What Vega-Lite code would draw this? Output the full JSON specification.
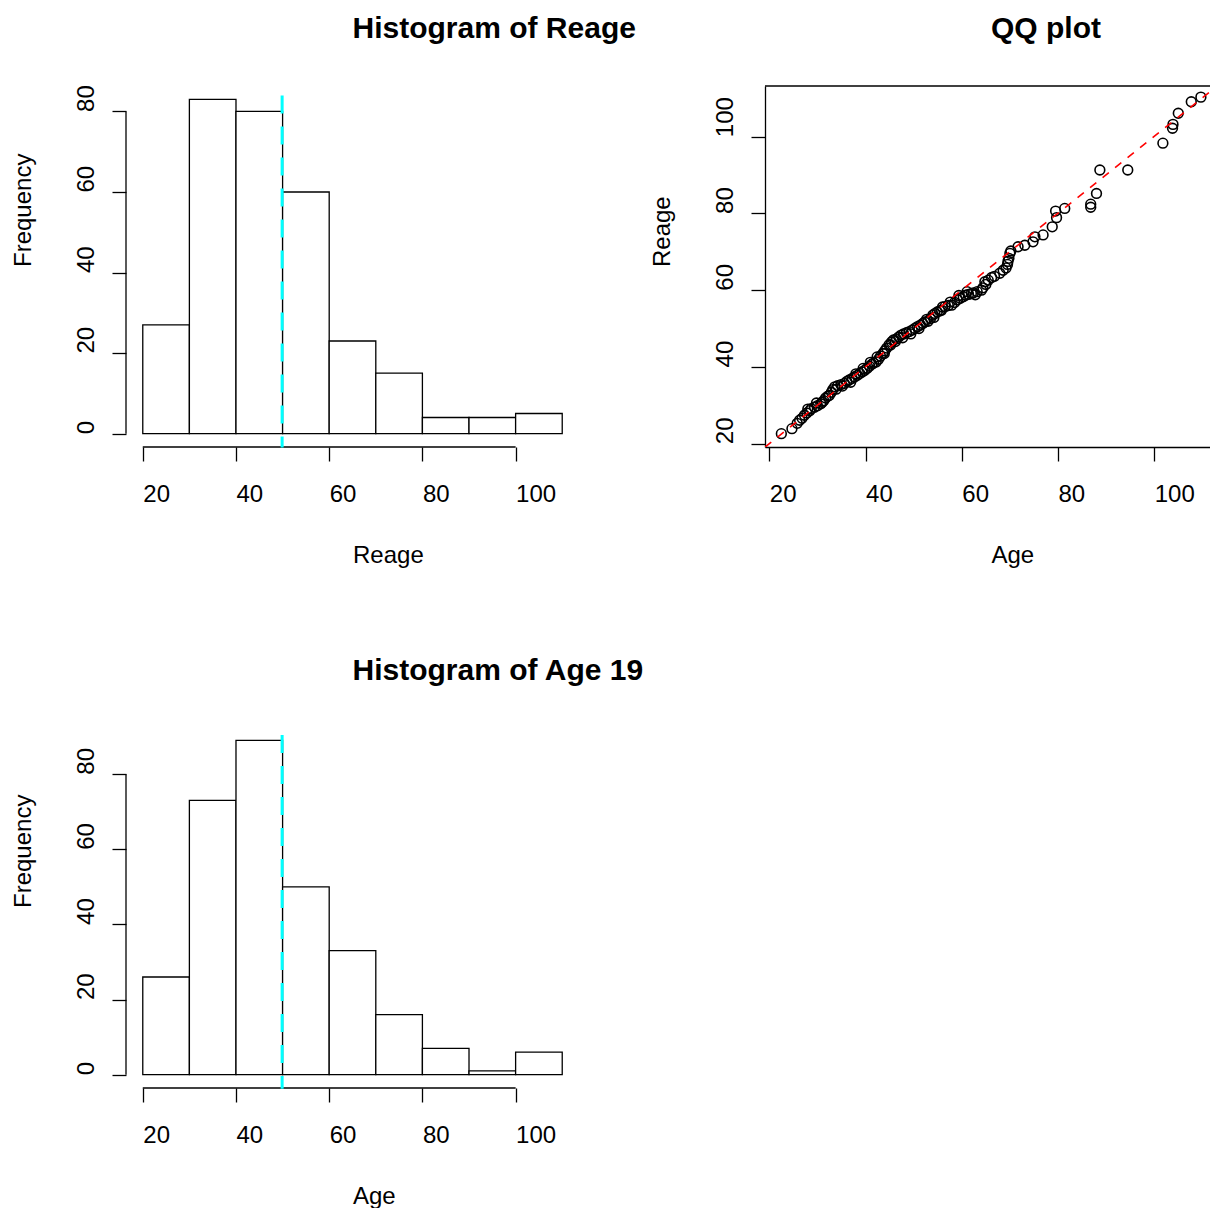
{
  "$schema": "https://vega.github.io/schema/vega-lite/v6.json",
  "background": "white",
  "padding": {"left": 11, "top": 13, "right": 0, "bottom": 0},
  "bounds": "flush",
  "columns": 2,
  "spacing": {"row": 280, "column": 186},
  "config": {
    "view": {"stroke": null},
    "font": "Liberation Sans",
    "axis": {
      "grid": false,
      "domain": false,
      "tickSize": 14,
      "tickColor": "black",
      "tickWidth": 1.3,
      "labelFont": "Liberation Sans",
      "labelFontSize": 24,
      "labelColor": "black",
      "titleFont": "Liberation Sans",
      "titleFontSize": 24,
      "titleFontWeight": "normal",
      "titleColor": "black",
      "labelOverlap": false,
      "labelFlush": false,
      "labelBound": false
    },
    "axisX": {
      "labelAngle": 0,
      "labelAlign": "left",
      "labelBaseline": "alphabetic",
      "labelPadding": 40,
      "titleAngle": 0,
      "titleAlign": "left",
      "titleBaseline": "alphabetic",
      "titleY": 115
    },
    "axisY": {
      "labelAngle": 270,
      "labelAlign": "left",
      "labelBaseline": "alphabetic",
      "labelPadding": 19,
      "titleAngle": 270,
      "titleAlign": "left",
      "titleBaseline": "alphabetic",
      "titleX": -96,
      "titleY": 180.5
    },
    "title": {
      "frame": "group",
      "font": "Liberation Sans",
      "fontSize": 30,
      "fontWeight": "bold",
      "color": "black"
    }
  },
  "concat": [
    {
      "width": 453,
      "height": 361,
      "title": {"text": "Histogram of Reage", "align": "left", "baseline": "alphabetic", "anchor": "middle", "frame": "group", "offset": 17},
      "layer": [
        {
          "data": {"values": [
            {"lo": 20, "hi": 30, "count": 27},
            {"lo": 30, "hi": 40, "count": 83},
            {"lo": 40, "hi": 50, "count": 80},
            {"lo": 50, "hi": 60, "count": 60},
            {"lo": 60, "hi": 70, "count": 23},
            {"lo": 70, "hi": 80, "count": 15},
            {"lo": 80, "hi": 90, "count": 4},
            {"lo": 90, "hi": 100, "count": 4},
            {"lo": 100, "hi": 110, "count": 5}
          ]},
          "mark": {"type": "bar", "fill": "white", "stroke": "black", "strokeWidth": 1.3},
          "encoding": {
            "x": {"field": "lo", "type": "quantitative", "scale": {"domain": [16.4, 113.6], "nice": false, "zero": false},
                  "axis": {"values": [20, 40, 60, 80, 100], "title": "Reage", "titleX": 226.5}},
            "x2": {"field": "hi"},
            "y": {"field": "count", "type": "quantitative", "scale": {"domain": [-3.32, 86.32], "nice": false, "zero": false},
                  "axis": {"values": [0, 20, 40, 60, 80], "title": "Frequency"}},
            "y2": {"datum": 0}
          }
        },
        {
          "data": {"values": [{}]},
          "mark": {"type": "rule", "color": "black", "strokeWidth": 1.3},
          "encoding": {"x": {"datum": 20}, "x2": {"datum": 100}, "y": {"datum": -3.32}}
        },
        {
          "data": {"values": [{}]},
          "mark": {"type": "rule", "color": "black", "strokeWidth": 1.3},
          "encoding": {"x": {"datum": 16.4}, "y": {"datum": 0}, "y2": {"datum": 80}}
        },
        {
          "data": {"values": [{}]},
          "mark": {"type": "rule", "color": "#00FFFF", "strokeWidth": 3, "strokeDash": [18, 13]},
          "encoding": {"x": {"datum": 49.9}, "y": {"datum": 83.96}, "y2": {"datum": -3.47}}
        }
      ]
    },
    {
      "width": 446,
      "height": 361,
      "title": {"text": "QQ plot", "align": "left", "baseline": "alphabetic", "anchor": "start", "dx": 226, "frame": "group", "offset": 17},
      "layer": [
        {
          "data": {"values": [
            {"age": 22.5, "reage": 22.6}, {"age": 24.7, "reage": 23.9}, {"age": 25.8, "reage": 25.3}, {"age": 26.3, "reage": 26.1},
            {"age": 26.8, "reage": 26.6}, {"age": 27.3, "reage": 27.4}, {"age": 27.8, "reage": 28.0}, {"age": 28.4, "reage": 28.6},
            {"age": 28.7, "reage": 29.1}, {"age": 29.4, "reage": 29.5}, {"age": 30.0, "reage": 29.9}, {"age": 30.7, "reage": 30.4},
            {"age": 31.3, "reage": 31.2}, {"age": 31.7, "reage": 31.9}, {"age": 32.2, "reage": 32.4}, {"age": 32.5, "reage": 32.6},
            {"age": 32.9, "reage": 33.4}, {"age": 33.2, "reage": 34.1}, {"age": 33.6, "reage": 34.8}, {"age": 34.2, "reage": 35.1},
            {"age": 34.9, "reage": 35.4}, {"age": 35.6, "reage": 35.7}, {"age": 36.1, "reage": 36.2}, {"age": 36.6, "reage": 36.6},
            {"age": 37.2, "reage": 37.0}, {"age": 37.7, "reage": 37.4}, {"age": 38.3, "reage": 37.8}, {"age": 38.8, "reage": 38.3},
            {"age": 39.3, "reage": 38.7}, {"age": 39.8, "reage": 39.1}, {"age": 40.3, "reage": 39.6}, {"age": 40.8, "reage": 40.2},
            {"age": 41.3, "reage": 40.7}, {"age": 41.7, "reage": 41.0}, {"age": 42.2, "reage": 41.3}, {"age": 42.7, "reage": 42.0},
            {"age": 43.1, "reage": 42.8}, {"age": 43.6, "reage": 43.5}, {"age": 44.0, "reage": 44.2}, {"age": 44.4, "reage": 44.9},
            {"age": 44.9, "reage": 45.8}, {"age": 45.4, "reage": 46.5}, {"age": 45.8, "reage": 47.0}, {"age": 46.4, "reage": 47.3},
            {"age": 46.9, "reage": 47.8}, {"age": 47.4, "reage": 48.3}, {"age": 47.9, "reage": 48.6}, {"age": 48.5, "reage": 48.9},
            {"age": 49.1, "reage": 49.2}, {"age": 49.7, "reage": 49.6}, {"age": 50.2, "reage": 50.0}, {"age": 50.8, "reage": 50.5},
            {"age": 51.4, "reage": 50.9}, {"age": 51.9, "reage": 51.3}, {"age": 52.3, "reage": 51.7}, {"age": 53.0, "reage": 51.9},
            {"age": 53.5, "reage": 52.6}, {"age": 54.0, "reage": 53.5}, {"age": 54.4, "reage": 53.9}, {"age": 54.9, "reage": 54.3},
            {"age": 55.4, "reage": 54.6}, {"age": 55.8, "reage": 54.8}, {"age": 56.5, "reage": 55.7}, {"age": 57.2, "reage": 56.0},
            {"age": 57.9, "reage": 56.1}, {"age": 58.5, "reage": 56.8}, {"age": 59.1, "reage": 57.5}, {"age": 59.7, "reage": 57.9},
            {"age": 60.3, "reage": 58.3}, {"age": 60.8, "reage": 58.7}, {"age": 61.4, "reage": 58.9}, {"age": 62.0, "reage": 59.1},
            {"age": 62.4, "reage": 59.3}, {"age": 63.2, "reage": 59.6}, {"age": 64.1, "reage": 60.0}, {"age": 64.4, "reage": 60.6},
            {"age": 64.8, "reage": 62.2}, {"age": 65.5, "reage": 62.6}, {"age": 66.2, "reage": 63.3}, {"age": 66.8, "reage": 63.6},
            {"age": 67.9, "reage": 64.4}, {"age": 68.6, "reage": 65.2}, {"age": 69.2, "reage": 65.8}, {"age": 69.5, "reage": 66.7},
            {"age": 69.6, "reage": 67.5}, {"age": 69.8, "reage": 68.3}, {"age": 70.0, "reage": 69.6}, {"age": 70.2, "reage": 70.2},
            {"age": 71.7, "reage": 71.3}, {"age": 73.1, "reage": 71.7}, {"age": 74.8, "reage": 72.6}, {"age": 75.2, "reage": 73.9},
            {"age": 76.9, "reage": 74.4}, {"age": 78.8, "reage": 76.5}, {"age": 79.7, "reage": 78.9}, {"age": 79.5, "reage": 80.6},
            {"age": 81.4, "reage": 81.3}, {"age": 86.8, "reage": 81.6}, {"age": 86.8, "reage": 82.4}, {"age": 88.0, "reage": 85.2},
            {"age": 88.7, "reage": 91.3}, {"age": 94.5, "reage": 91.3}, {"age": 101.8, "reage": 98.3}, {"age": 103.8, "reage": 102.2},
            {"age": 103.9, "reage": 103.2}, {"age": 105.0, "reage": 106.1}, {"age": 107.7, "reage": 109.1}, {"age": 109.7, "reage": 110.3},
            {"age": 28.0, "reage": 29.0}, {"age": 29.8, "reage": 30.6}, {"age": 31.0, "reage": 30.8}, {"age": 33.9, "reage": 34.2},
            {"age": 35.2, "reage": 35.0}, {"age": 36.9, "reage": 36.0}, {"age": 38.0, "reage": 38.2}, {"age": 39.5, "reage": 39.6},
            {"age": 41.0, "reage": 41.2}, {"age": 42.4, "reage": 42.6}, {"age": 43.9, "reage": 43.5}, {"age": 45.2, "reage": 45.7},
            {"age": 46.2, "reage": 46.6}, {"age": 47.7, "reage": 47.6}, {"age": 49.4, "reage": 48.6}, {"age": 51.1, "reage": 50.0},
            {"age": 52.7, "reage": 52.4}, {"age": 54.2, "reage": 52.9}, {"age": 56.0, "reage": 55.6}, {"age": 57.6, "reage": 56.9},
            {"age": 59.4, "reage": 58.6}, {"age": 61.1, "reage": 59.6}, {"age": 62.8, "reage": 58.8}, {"age": 65.0, "reage": 61.5}
          ]},
          "mark": {"type": "point", "shape": "circle", "filled": false, "stroke": "black", "strokeWidth": 1.6, "size": 95, "opacity": 1},
          "encoding": {
            "x": {"field": "age", "type": "quantitative", "scale": {"domain": [19.1, 111.8], "nice": false, "zero": false},
                  "axis": {"values": [20, 40, 60, 80, 100], "title": "Age", "titleX": 226, "domain": true, "domainColor": "black", "domainWidth": 1.3}},
            "y": {"field": "reage", "type": "quantitative", "scale": {"domain": [19.13, 113.2], "nice": false, "zero": false},
                  "axis": {"values": [20, 40, 60, 80, 100], "title": "Reage", "domain": true, "domainColor": "black", "domainWidth": 1.3}}
          }
        },
        {
          "data": {"values": [{}]},
          "mark": {"type": "rule", "color": "red", "strokeWidth": 1.6, "strokeDash": [8, 8], "clip": true},
          "encoding": {"x": {"datum": 19.1}, "y": {"datum": 19.1}, "x2": {"datum": 111.8}, "y2": {"datum": 111.9}}
        },
        {
          "data": {"values": [{}]},
          "mark": {"type": "rule", "color": "black", "strokeWidth": 1.3},
          "encoding": {"y": {"datum": 113.2}}
        }
      ]
    },
    {
      "width": 453,
      "height": 361,
      "title": {"text": "Histogram of Age 19", "align": "left", "baseline": "alphabetic", "anchor": "middle", "frame": "group", "offset": 17},
      "layer": [
        {
          "data": {"values": [
            {"lo": 20, "hi": 30, "count": 26},
            {"lo": 30, "hi": 40, "count": 73},
            {"lo": 40, "hi": 50, "count": 89},
            {"lo": 50, "hi": 60, "count": 50},
            {"lo": 60, "hi": 70, "count": 33},
            {"lo": 70, "hi": 80, "count": 16},
            {"lo": 80, "hi": 90, "count": 7},
            {"lo": 90, "hi": 100, "count": 1},
            {"lo": 100, "hi": 110, "count": 6}
          ]},
          "mark": {"type": "bar", "fill": "white", "stroke": "black", "strokeWidth": 1.3},
          "encoding": {
            "x": {"field": "lo", "type": "quantitative", "scale": {"domain": [16.4, 113.6], "nice": false, "zero": false},
                  "axis": {"values": [20, 40, 60, 80, 100], "title": "Age", "titleX": 226.5}},
            "x2": {"field": "hi"},
            "y": {"field": "count", "type": "quantitative", "scale": {"domain": [-3.56, 92.56], "nice": false, "zero": false},
                  "axis": {"values": [0, 20, 40, 60, 80], "title": "Frequency"}},
            "y2": {"datum": 0}
          }
        },
        {
          "data": {"values": [{}]},
          "mark": {"type": "rule", "color": "black", "strokeWidth": 1.3},
          "encoding": {"x": {"datum": 20}, "x2": {"datum": 100}, "y": {"datum": -3.56}}
        },
        {
          "data": {"values": [{}]},
          "mark": {"type": "rule", "color": "black", "strokeWidth": 1.3},
          "encoding": {"x": {"datum": 16.4}, "y": {"datum": 0}, "y2": {"datum": 80}}
        },
        {
          "data": {"values": [{}]},
          "mark": {"type": "rule", "color": "#00FFFF", "strokeWidth": 3, "strokeDash": [18, 13]},
          "encoding": {"x": {"datum": 49.9}, "y": {"datum": 90.4}, "y2": {"datum": -3.73}}
        }
      ]
    }
  ]
}
